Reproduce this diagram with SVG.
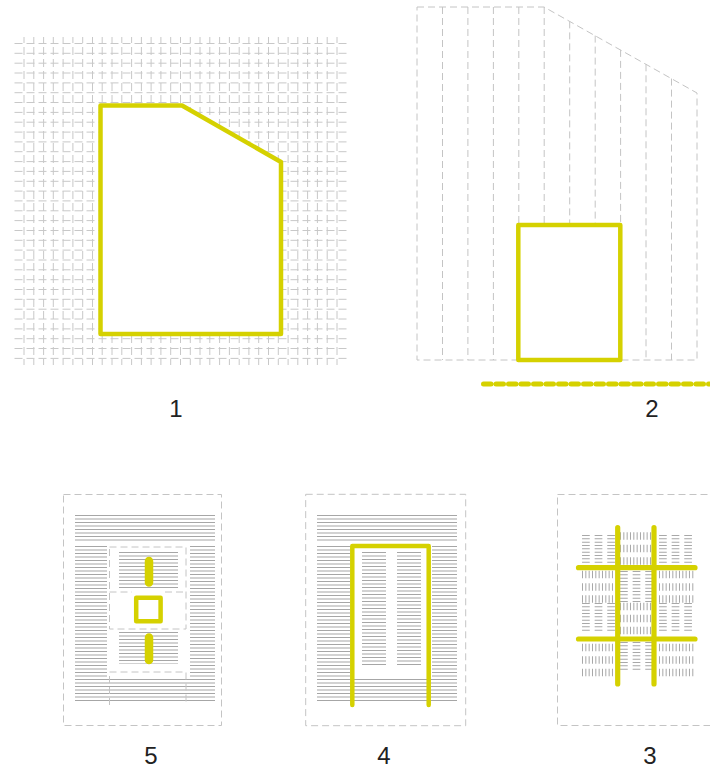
<svg xmlns="http://www.w3.org/2000/svg" width="710" height="769" viewBox="0 0 710 769">
<style>
.bg{fill:#ffffff}
.grid{fill:none;stroke:#c8c8c8;stroke-width:1}
.gh{stroke-dasharray:8 4}
.gv{stroke-dasharray:8 4;stroke-dashoffset:2}
.dash{fill:none;stroke:#c4c4c4;stroke-width:1;stroke-dasharray:7 4}
.y{fill:none;stroke:#d5d100;stroke-width:4.5;stroke-linejoin:round;stroke-linecap:round}
.yf{fill:#ffffff;stroke:#d5d100;stroke-width:4.5;stroke-linejoin:round;stroke-linecap:round}
.st{fill:none;stroke:#a6a6a6;stroke-dasharray:1 2.5}
.st3{fill:none;stroke:#a8a8a8;stroke-dasharray:1 2.33}
.lbl{font-family:"Liberation Sans",Arial,sans-serif;font-size:24px;fill:#222;text-anchor:middle}
</style>
<rect class="bg" x="0" y="0" width="710" height="769"/>

<g id="panel1">
  <path class="grid gh" d="M14.5 43.5H347M14.5 53.3H347M14.5 63.2H347M14.5 73H347M14.5 82.9H347M14.5 92.7H347M14.5 102.5H347M14.5 112.4H347M14.5 122.2H347M14.5 132.1H347M14.5 141.9H347M14.5 151.7H347M14.5 161.6H347M14.5 171.4H347M14.5 181.3H347M14.5 191.1H347M14.5 200.9H347M14.5 210.8H347M14.5 220.6H347M14.5 230.5H347M14.5 240.3H347M14.5 250.1H347M14.5 260H347M14.5 269.8H347M14.5 279.7H347M14.5 289.5H347M14.5 299.3H347M14.5 309.2H347M14.5 319H347M14.5 328.9H347M14.5 338.7H347M14.5 348.5H347M14.5 358.4H347"/>
  <path class="grid gv" d="M24 37V365M33.8 37V365M43.6 37V365M53.3 37V365M63.1 37V365M72.9 37V365M82.7 37V365M92.5 37V365M102.2 37V365M112 37V365M121.8 37V365M131.6 37V365M141.4 37V365M151.1 37V365M160.9 37V365M170.7 37V365M180.5 37V365M190.3 37V365M200 37V365M209.8 37V365M219.6 37V365M229.4 37V365M239.2 37V365M248.9 37V365M258.7 37V365M268.5 37V365M278.3 37V365M288.1 37V365M297.8 37V365M307.6 37V365M317.4 37V365M327.2 37V365M337 37V365"/>
  <path class="yf" d="M100.5 105.5H182L281 162V334H100.5Z"/>
  <text class="lbl" x="176" y="417">1</text>
</g>

<g id="panel2">
  <path class="dash" d="M417 7H544L697 93V360H417Z"/>
  <path class="dash" d="M442.5 7V360M467.9 7V360M493.4 7V360M518.8 7V360M544.2 7V360M569.7 21.4V360M595.2 35.6V360M620.6 49.9V360M646 64.3V360M671.5 78.6V360"/>
  <rect class="yf" x="518.3" y="225" width="102" height="135"/>
  <path d="M483.5 384H712" fill="none" stroke="#d5d100" stroke-width="5" stroke-linecap="round" stroke-dasharray="7.5 5"/>
  <text class="lbl" x="652" y="417">2</text>
</g>

<g id="panel5">
  <rect class="dash" x="63.5" y="494.5" width="158" height="231"/>
  <path class="st" style="stroke-width:140px" d="M145 515V541"/>
  <path class="st" style="stroke-width:32px" d="M91 546V703"/>
  <path class="st" style="stroke-width:25px" d="M202.5 546V703"/>
  <path class="st" style="stroke-width:83px" d="M148.5 679V703"/>
  <path class="st" style="stroke-width:59px" d="M148.5 552V590M148.5 632V664"/>
  <path class="dash" d="M109.5 547H186V629H109.5Z"/>
  <path class="dash" d="M109.5 592H132M165 592H186"/>
  <path class="dash" d="M109.5 705V672H186V705"/>
  <path class="y" style="stroke-width:8.5px" d="M149 561V582.5M149 637.5V660"/>
  <rect class="yf" x="136.2" y="597.8" width="24.4" height="23.5"/>
  <text class="lbl" x="151" y="764">5</text>
</g>

<g id="panel4">
  <rect class="dash" x="305.7" y="494.3" width="160" height="231.4"/>
  <path class="st" style="stroke-width:140px" d="M387 515V541"/>
  <path class="st" style="stroke-width:33px" d="M333.5 546V703"/>
  <path class="st" style="stroke-width:25px" d="M444.5 546V703"/>
  <path class="st" style="stroke-width:82px" d="M391 679V703"/>
  <path class="st" style="stroke-width:24px" d="M374 552V666M409 552V666"/>
  <path class="y" d="M352.3 705V546H428.7V705"/>
  <text class="lbl" x="384" y="764">4</text>
</g>

<g id="panel3">
  <rect class="dash" x="557.5" y="494.5" width="170" height="231"/>
  <path class="st3" style="stroke-width:7.7px" d="M585.9 535V565M598.5 535V565M611.1 535V565M662.9 535V565M675.5 535V565M688.1 535V565M623.9 571V602M636.5 571V602M649.1 571V602M585.9 603V633M598.5 603V633M611.1 603V633M662.9 603V633M675.5 603V633M688.1 603V633M623.9 642V670M636.5 642V670M649.1 642V670"/>
  <path class="st3" style="stroke-width:7.5px" d="M620 536H653M620 548.5H653M620 561H653M582 574.5H615M582 587H615M582 599H615M659 574.5H694M659 587H694M659 599H694M620 606.5H653M620 618.5H653M620 630.5H653M582 647.5H615M582 660H615M582 672.5H615M659 647.5H694M659 660H694M659 672.5H694"/>
  <path class="y" style="stroke-width:5.2px" d="M617.7 527.5V684M654 527.5V684M578.5 567.7H695M578.5 639H695"/>
  <text class="lbl" x="650" y="764">3</text>
</g>
</svg>
